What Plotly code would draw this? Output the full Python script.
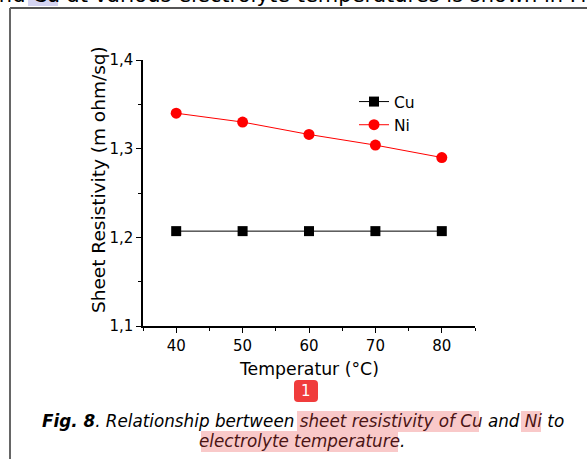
import plotly.graph_objects as go

# ---- data ----
temperature = [40, 50, 60, 70, 80]
cu_resistivity = [1.207, 1.207, 1.207, 1.207, 1.207]
ni_resistivity = [1.340, 1.330, 1.316, 1.304, 1.290]
x_tickvals = [40, 50, 60, 70, 80]
y_tickvals = [1.1, 1.2, 1.3, 1.4]
y_ticktext = ["1,1", "1,2", "1,3", "1,4"]

W, H = 587, 459
L, R, T, B = 143, 475, 60, 326  # plot area in pixels


def px(x):
    return (x - L) / (R - L)


def py(y):
    return (B - y) / (B - T)


FONT = "DejaVu Sans, Liberation Sans, Arial, sans-serif"

fig = go.Figure()
fig.add_trace(go.Scatter(
    x=temperature, y=cu_resistivity, name="Cu", mode="lines+markers",
    line=dict(color="black", width=1),
    marker=dict(symbol="square", size=10, color="black"),
))
fig.add_trace(go.Scatter(
    x=temperature, y=ni_resistivity, name="Ni", mode="lines+markers",
    line=dict(color="#ff0000", width=1),
    marker=dict(symbol="circle", size=11, color="#ff0000"),
))

axis_common = dict(showgrid=False, zeroline=False, showline=True,
                   linecolor="black", linewidth=1.5, tickcolor="black",
                   tickwidth=1)

fig.update_layout(
    width=W, height=H,
    margin=dict(l=L, r=W - R, t=T, b=H - B, pad=0),
    paper_bgcolor="white", plot_bgcolor="white",
    font=dict(family=FONT, color="black", size=15),
    showlegend=True,
    legend=dict(x=px(354), y=py(85), xanchor="left", yanchor="top",
                bgcolor="rgba(0,0,0,0)", font=dict(size=15.5),
                tracegroupgap=0),
    xaxis=dict(range=[35, 85], tickvals=x_tickvals, ticks="outside",
               ticklen=5, tickfont=dict(size=15),
               minor=dict(dtick=5, tick0=0, ticks="outside", ticklen=3,
                          tickcolor="black"),
               **axis_common),
    yaxis=dict(range=[1.1, 1.4], tickvals=y_tickvals, ticktext=y_ticktext,
               ticks="outside", ticklen=5, tickfont=dict(size=15),
               minor=dict(dtick=0.05, tick0=0, ticks="outside", ticklen=3,
                          tickcolor="black"),
               **axis_common),
    xaxis2=dict(range=[35, 85], overlaying="x", side="top", anchor="y",
                ticks="inside", dtick=5, tick0=0, ticklen=4,
                showticklabels=False, **axis_common),
    yaxis2=dict(range=[0, 10], overlaying="y", side="right", anchor="x",
                ticks="inside", dtick=2, tick0=0, ticklen=6,
                showticklabels=False,
                minor=dict(dtick=1, tick0=0, ticks="inside", ticklen=3,
                           tickcolor="black"),
                **axis_common),
)

shapes = []
# page frame
shapes.append(dict(type="line", xref="paper", yref="paper",
                   x0=px(10), x1=px(600), y0=py(8), y1=py(8),
                   line=dict(color="#555555", width=2)))
shapes.append(dict(type="line", xref="paper", yref="paper",
                   x0=px(10), x1=px(10), y0=py(8), y1=py(470),
                   line=dict(color="#666666", width=2)))
# lavender highlight at top
shapes.append(dict(type="rect", xref="paper", yref="paper", layer="below",
                   x0=px(28), x1=px(58), y0=py(-5), y1=py(6),
                   line=dict(width=0), fillcolor="#d4d4f2"))
# caption highlights
HL = "#f9c9c9"
for x0, x1, y0, y1 in [(297, 479, 411, 432), (521, 541, 411, 432),
                       (201, 398, 431, 452)]:
    shapes.append(dict(type="rect", xref="paper", yref="paper", layer="below",
                       x0=px(x0), x1=px(x1), y0=py(y0), y1=py(y1),
                       line=dict(width=0), fillcolor=HL))
# red badge (rounded)
bx0, bx1, by0, by1, r = 294, 318, 380, 402, 4
path = (f"M{px(bx0 + r)},{py(by0)} L{px(bx1 - r)},{py(by0)} "
        f"Q{px(bx1)},{py(by0)} {px(bx1)},{py(by0 + r)} "
        f"L{px(bx1)},{py(by1 - r)} Q{px(bx1)},{py(by1)} {px(bx1 - r)},{py(by1)} "
        f"L{px(bx0 + r)},{py(by1)} Q{px(bx0)},{py(by1)} {px(bx0)},{py(by1 - r)} "
        f"L{px(bx0)},{py(by0 + r)} Q{px(bx0)},{py(by0)} {px(bx0 + r)},{py(by0)} Z")
shapes.append(dict(type="path", xref="paper", yref="paper", path=path,
                   fillcolor="#f03c3c", line=dict(width=0)))
fig.update_layout(shapes=shapes)

DK = "#4a1414"
annotations = [
    dict(text="Temperatur (°C)", x=px(309), y=py(369), font=dict(size=17.3)),
    dict(text="Sheet Resistivity (m ohm/sq)", x=px(98), y=py(180),
         textangle=-90, font=dict(size=18.5)),
    dict(text="1", x=px(306), y=py(391), font=dict(size=15, color="white")),
    dict(text=("<b><i>Fig. 8</i></b><i>. Relationship bertween "
               f"<span style='color:{DK}'>sheet resistivity of Cu</span> and "
               f"<span style='color:{DK}'>Ni</span> to</i>"),
         x=px(303), y=py(421), font=dict(size=16.8)),
    dict(text=(f"<i><span style='color:{DK}'>electrolyte temperature</span>.</i>"),
         x=px(302), y=py(441), font=dict(size=16.8)),
    dict(text="and Cu at various electrolyte temperatures is shown in Fig. 8",
         x=px(-16), y=py(-5), xanchor="left", font=dict(size=21)),
]
for a in annotations:
    a.setdefault("xanchor", "center")
    a.update(xref="paper", yref="paper", yanchor="middle", showarrow=False)
fig.update_layout(annotations=annotations)

fig.write_html("out.html")
